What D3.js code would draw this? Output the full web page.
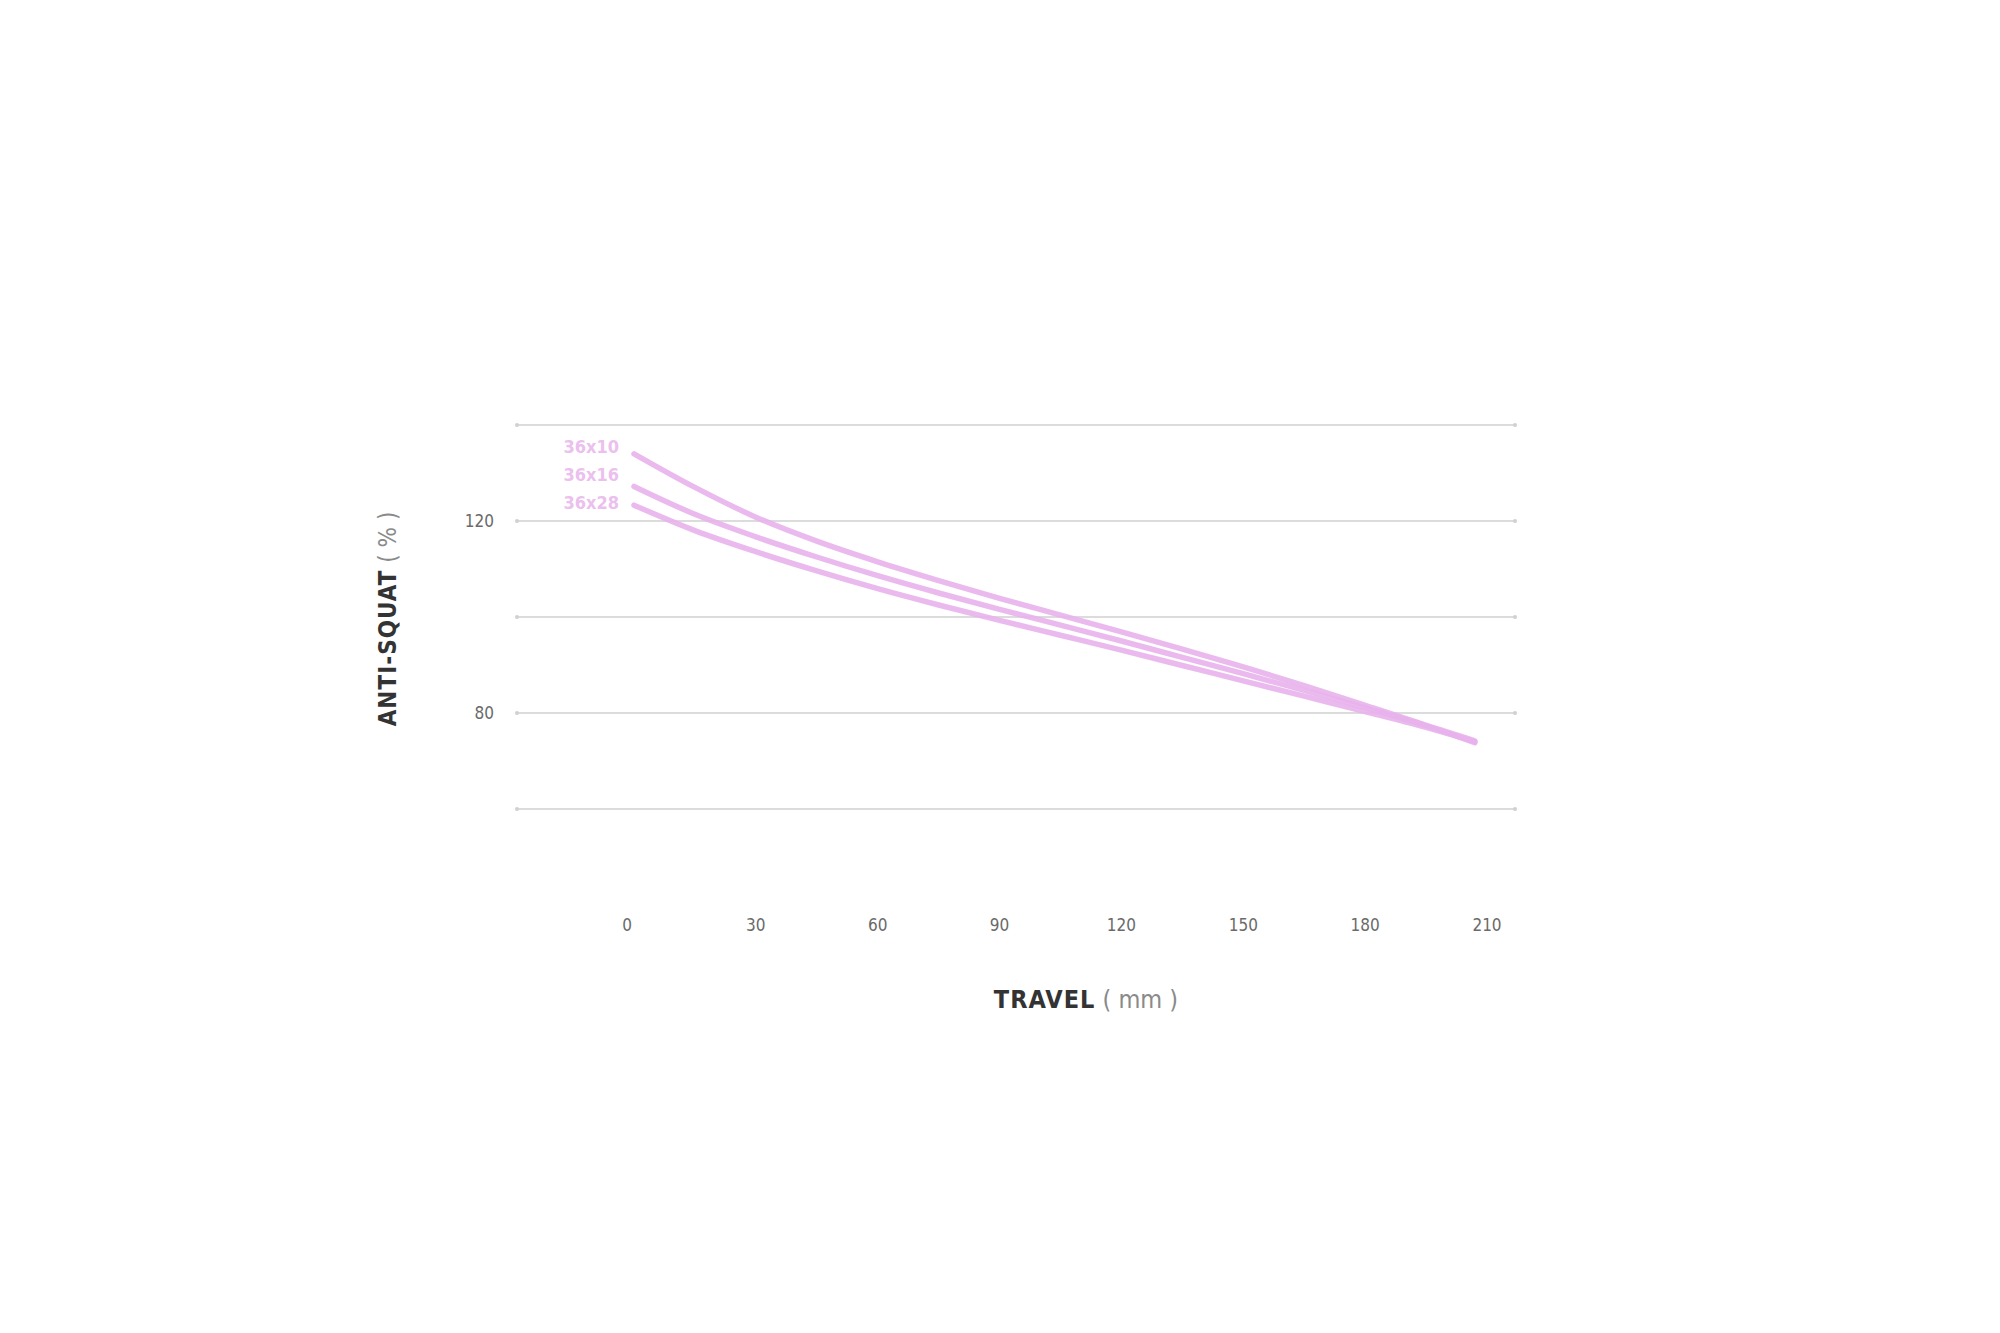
<!DOCTYPE html>
<html>
<head>
<meta charset="utf-8">
<script src="https://cdn.jsdelivr.net/npm/d3@7"></script>
<style>
  html, body { margin: 0; padding: 0; background: #ffffff; }
  svg { display: block; }
</style>
</head>
<body>
<svg id="chart" width="2000" height="1333"></svg>
<script>
// ---- data ----
const travel = [0, 15, 30, 45, 60, 75, 90, 105, 120, 135, 150, 165, 180, 195, 207];
const seriesNames = ["36x10", "36x16", "36x28"];
const as36x10 = [134.0, 127.0, 120.8, 115.8, 111.5, 107.6, 103.9, 100.4, 96.9, 93.3, 89.6, 85.7, 81.6, 77.4, 73.8];
const as36x16 = [127.2, 121.4, 116.7, 112.5, 108.6, 105.0, 101.6, 98.3, 95.0, 91.6, 88.2, 84.7, 81.1, 77.4, 74.2];
const as36x28 = [123.3, 118.0, 113.6, 109.6, 105.9, 102.5, 99.3, 96.2, 93.1, 89.9, 86.7, 83.5, 80.3, 77.0, 74.0];
const xTicks = [0, 30, 60, 90, 120, 150, 180, 210];
const yGrid = [60, 80, 100, 120, 140];
const yTickLabels = [80, 120];

const seriesValues = [as36x10, as36x16, as36x28];

// ---- layout ----
const svg = d3.select("#chart");
const x = d3.scaleLinear().domain([0, 210]).range([634, 1487]);
const y = d3.scaleLinear().domain([60, 140]).range([809, 425]);
const gridX0 = 517, gridX1 = 1515;

const font = "'DejaVu Sans Condensed', 'DejaVu Sans', sans-serif";
const lineColor = "#e8b3ec";

// gridlines
const grid = svg.append("g");
grid.selectAll("line").data(yGrid).join("line")
  .attr("x1", gridX0).attr("x2", gridX1)
  .attr("y1", d => y(d)).attr("y2", d => y(d))
  .attr("stroke", "#dcdcdc").attr("stroke-width", 2);
grid.selectAll("circle.l").data(yGrid).join("circle").attr("class", "l")
  .attr("cx", gridX0).attr("cy", d => y(d)).attr("r", 2).attr("fill", "#d0d0d0");
grid.selectAll("circle.r").data(yGrid).join("circle").attr("class", "r")
  .attr("cx", gridX1).attr("cy", d => y(d)).attr("r", 2).attr("fill", "#d0d0d0");

// y tick labels
svg.append("g").selectAll("text").data(yTickLabels).join("text")
  .attr("x", 494).attr("y", d => y(d)).attr("dy", "0.35em")
  .attr("text-anchor", "end")
  .attr("font-family", font).attr("font-size", 17).attr("fill", "#6a6a6a")
  .text(d => d);

// x tick labels
svg.append("g").selectAll("text").data(xTicks).join("text")
  .attr("x", d => x(d)).attr("y", 925).attr("dy", "0.35em")
  .attr("dx", d => d === 0 ? -7 : 0)
  .attr("text-anchor", "middle")
  .attr("font-family", font).attr("font-size", 17).attr("fill", "#6a6a6a")
  .text(d => d);

// lines
const line = d3.line()
  .x((d, i) => x(travel[i]))
  .y(d => y(d))
  .curve(d3.curveCatmullRom.alpha(0.5));

svg.append("g").selectAll("path").data(seriesValues).join("path")
  .attr("d", d => line(d))
  .attr("fill", "none")
  .attr("stroke", lineColor)
  .attr("stroke-width", 5.5)
  .attr("stroke-opacity", 0.9)
  .attr("stroke-linecap", "round");

// series labels
const labelY = [447, 475, 503];
svg.append("g").selectAll("text").data(seriesNames).join("text")
  .attr("x", 619).attr("y", (d, i) => labelY[i]).attr("dy", "0.35em")
  .attr("text-anchor", "end")
  .attr("font-family", font).attr("font-weight", "bold").attr("font-size", 18)
  .attr("fill", "#ebc0ee")
  .text(d => d);

// axis titles
const xt = svg.append("text")
  .attr("x", 1086).attr("y", 999).attr("dy", "0.35em")
  .attr("text-anchor", "middle")
  .attr("font-family", font).attr("font-size", 25);
xt.append("tspan").attr("font-weight", "bold").attr("fill", "#333333").attr("letter-spacing", 1).text("TRAVEL");
xt.append("tspan").attr("fill", "#8a8a8a").attr("font-weight", "normal").text(" ( mm )");

const yt = svg.append("text")
  .attr("transform", "translate(388,619) rotate(-90)")
  .attr("dy", "0.35em")
  .attr("text-anchor", "middle")
  .attr("font-family", font).attr("font-size", 24);
yt.append("tspan").attr("font-weight", "bold").attr("fill", "#333333").attr("letter-spacing", 1).text("ANTI-SQUAT");
yt.append("tspan").attr("fill", "#8a8a8a").attr("font-weight", "normal").text(" ( % )");
</script>
</body>
</html>
